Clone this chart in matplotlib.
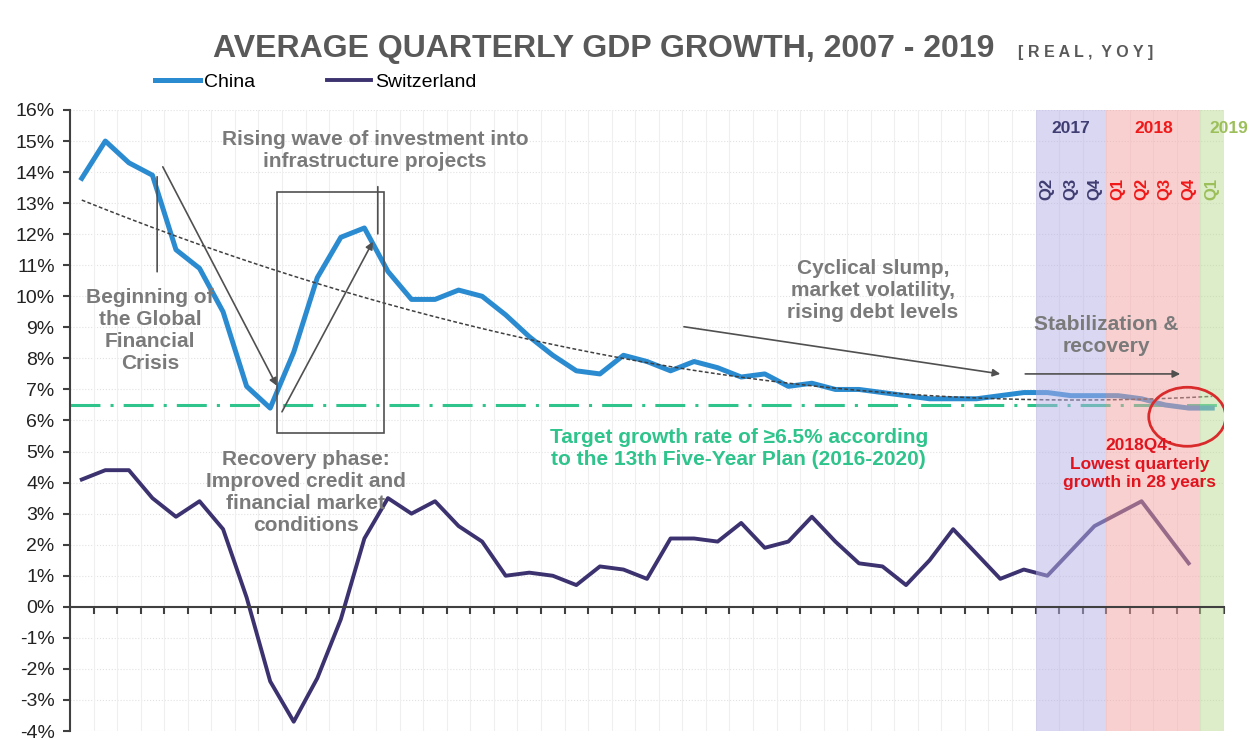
import matplotlib
matplotlib.use("Agg")
import matplotlib.pyplot as plt
import numpy as np
from matplotlib.patches import Ellipse, Rectangle

plt.rcParams['font.family'] = ['Liberation Sans', 'DejaVu Sans']

# ---------------- data ----------------
quarters = [f"{y}Q{q}" for y in range(2007, 2020) for q in range(1, 5)][:49]
china_gdp = [13.8, 15.0, 14.3, 13.9, 11.5, 10.9, 9.5, 7.1, 6.4, 8.2, 10.6, 11.9,
             12.2, 10.8, 9.9, 9.9, 10.2, 10.0, 9.4, 8.7, 8.1, 7.6, 7.5, 8.1,
             7.9, 7.6, 7.9, 7.7, 7.4, 7.5, 7.1, 7.2, 7.0, 7.0, 6.9, 6.8,
             6.7, 6.7, 6.7, 6.8, 6.9, 6.9, 6.8, 6.8, 6.8, 6.7, 6.5, 6.4, 6.4]
swiss_gdp = [4.1, 4.4, 4.4, 3.5, 2.9, 3.4, 2.5, 0.3, -2.4, -3.7, -2.3, -0.4,
             2.2, 3.5, 3.0, 3.4, 2.6, 2.1, 1.0, 1.1, 1.0, 0.7, 1.3, 1.2,
             0.9, 2.2, 2.2, 2.1, 2.7, 1.9, 2.1, 2.9, 2.1, 1.4, 1.3, 0.7,
             1.5, 2.5, 1.7, 0.9, 1.2, 1.0, 1.8, 2.6, 3.0, 3.4, 2.4, 1.4]
target_rate = 6.5
y_ticks = list(range(-4, 17))
band_years = ["2017", "2018", "2019"]
band_quarters = [["Q2", "Q3", "Q4"], ["Q1", "Q2", "Q3", "Q4"], ["Q1"]]

# ---------------- styles ----------------
china_color = '#2b8bd0'
swiss_color = '#3c3270'
green = '#2ec48c'
ann_gray = '#7a7a7a'
line_gray = '#505050'
band_colors = ['#b4b0e6', '#f5a3a3', '#bcdc96']
band_text_colors = ['#3f3d72', '#f01818', '#9cbf5a']

W, H = 1253, 740
fig = plt.figure(figsize=(W / 100, H / 100), dpi=100)
ax = fig.add_axes([70 / W, 1 - 731 / H, 1154 / W, 621 / H])

x_c = np.arange(len(china_gdp))
x_s = np.arange(len(swiss_gdp))
ax.set_xlim(-0.5, len(china_gdp) - 0.5)
ax.set_ylim(-4, 16)

# grid
for v in y_ticks:
    ax.axhline(v, color='#e2e2e2', lw=0.8, ls=':', zorder=0)
for b in np.arange(-0.5, len(china_gdp), 1.0):
    ax.axvline(b, color='#efefef', lw=0.8, zorder=0)

# target line
ax.axhline(target_rate, color=green, lw=2.2, ls=(0, (9.8, 3.3, 1, 3.3)), zorder=2)

# series
l_china, = ax.plot(x_c, china_gdp, color=china_color, lw=3.6, zorder=3,
                   solid_joinstyle='round', label='China')
l_swiss, = ax.plot(x_s, swiss_gdp, color=swiss_color, lw=2.8, zorder=3,
                   solid_joinstyle='round', label='Switzerland')

# trend line (polynomial, like spreadsheet trendline)
coef = np.polyfit(x_c, china_gdp, 2)
ax.plot(x_c, np.polyval(coef, x_c), color='#404040', lw=1.1,
        ls=(0, (2.5, 1.5)), zorder=4)

# shaded bands
for yr, qs, bc, tc in zip(band_years, band_quarters, band_colors, band_text_colors):
    idx = [quarters.index(f"{yr}{q}") for q in qs]
    ax.axvspan(min(idx) - 0.5, max(idx) + 0.5, color=bc, alpha=0.5, lw=0, zorder=5)
    ax.text(np.mean(idx) + (0.7 if yr == "2019" else 0), 15.4, yr, ha='center', va='center',
            fontsize=12.5, fontweight='bold', color=tc, zorder=8, clip_on=False)
    for i, q in zip(idx, qs):
        ax.text(i, 13.45, q, rotation=90, ha='center', va='center', fontsize=12,
                fontweight='bold', color=tc, zorder=8)

# axes styling
for s in ['top', 'right']:
    ax.spines[s].set_visible(False)
ax.spines['bottom'].set_position(('data', 0))
ax.spines['left'].set_color('#404040')
ax.spines['bottom'].set_color('#404040')
ax.spines['left'].set_linewidth(1.5)
ax.spines['bottom'].set_linewidth(1.5)
ax.spines['left'].set_zorder(6)
ax.spines['bottom'].set_zorder(6)
ax.set_xticks(np.arange(0.5, len(china_gdp), 1.0))
ax.set_xticklabels([])
ax.tick_params(axis='x', direction='out', length=5, width=1.5, color='#404040')
ax.set_yticks(y_ticks)
ax.set_yticklabels([f"{v}%" for v in y_ticks])
ax.tick_params(axis='y', direction='out', length=5, width=1.5, color='#404040',
               labelsize=14, labelcolor='#222222', pad=6)

# title
fig.text(604 / W, 1 - 57 / H, "AVERAGE QUARTERLY GDP GROWTH, 2007 - 2019",
         ha='center', va='baseline', fontsize=23, fontweight='bold', color='#595959')
fig.text(1018 / W, 1 - 57 / H, "[ R E A L ,  Y O Y ]", ha='left', va='baseline',
         fontsize=11.5, fontweight='bold', color='#595959')

# legend
ax.legend([l_china, l_swiss], ['China', 'Switzerland'], loc='center left',
          bbox_to_anchor=(155 / W, 1 - 82 / H), bbox_transform=fig.transFigure,
          ncol=2, frameon=False, fontsize=14, handlelength=2.3, handletextpad=0.2,
          columnspacing=3.7, borderpad=0, borderaxespad=0)

# annotations
def seg(p0, p1, arrow=False):
    ax.annotate('', xy=p1, xytext=p0,
                arrowprops=dict(arrowstyle='-|>' if arrow else '-', color=line_gray,
                                lw=1.2, mutation_scale=11, shrinkA=0, shrinkB=0),
                zorder=6)

txt = dict(ha='center', va='center', fontsize=15, fontweight='bold', color=ann_gray,
           zorder=8, linespacing=1.2)
ax.text(2.9, 8.9, "Beginning of\nthe Global\nFinancial\nCrisis", **txt)
seg((3.2, 13.85), (3.2, 10.79))
seg((3.44, 14.17), (8.28, 7.12), arrow=True)

ax.add_patch(Rectangle((8.28, 5.6), 4.55, 7.77, fill=False, ec=line_gray, lw=1.2, zorder=6))
ax.text(12.45, 14.69, "Rising wave of investment into\ninfrastructure projects", **txt)
seg((12.57, 13.53), (12.57, 12.01))
seg((8.5, 6.28), (12.36, 11.76), arrow=True)

ax.text(9.5, 3.67, "Recovery phase:\nImproved credit and\nfinancial market\nconditions", **txt)

ax.text(33.6, 10.18, "Cyclical slump,\nmarket volatility,\nrising debt levels", **txt)
seg((25.57, 9.02), (39.0, 7.5), arrow=True)

ax.text(43.5, 8.73, "Stabilization &\nrecovery", **txt)
seg((40.06, 7.5), (46.64, 7.5), arrow=True)

ax.text(27.9, 5.1, "Target growth rate of \u22656.5% according\nto the 13th Five-Year Plan (2016-2020)",
        ha='center', va='center', fontsize=15, fontweight='bold', color=green, zorder=8)

ax.add_patch(Ellipse((46.94, 6.12), 3.27, 1.9, fill=False, ec='#d92b2b', lw=2.0, zorder=7))
ax.text(44.9, 4.59, "2018Q4:\nLowest quarterly\ngrowth in 28 years", ha='center', va='center',
        fontsize=12.5, fontweight='bold', color='#e0141e', zorder=8, linespacing=1.3)

fig.savefig('out.png', dpi=100)
